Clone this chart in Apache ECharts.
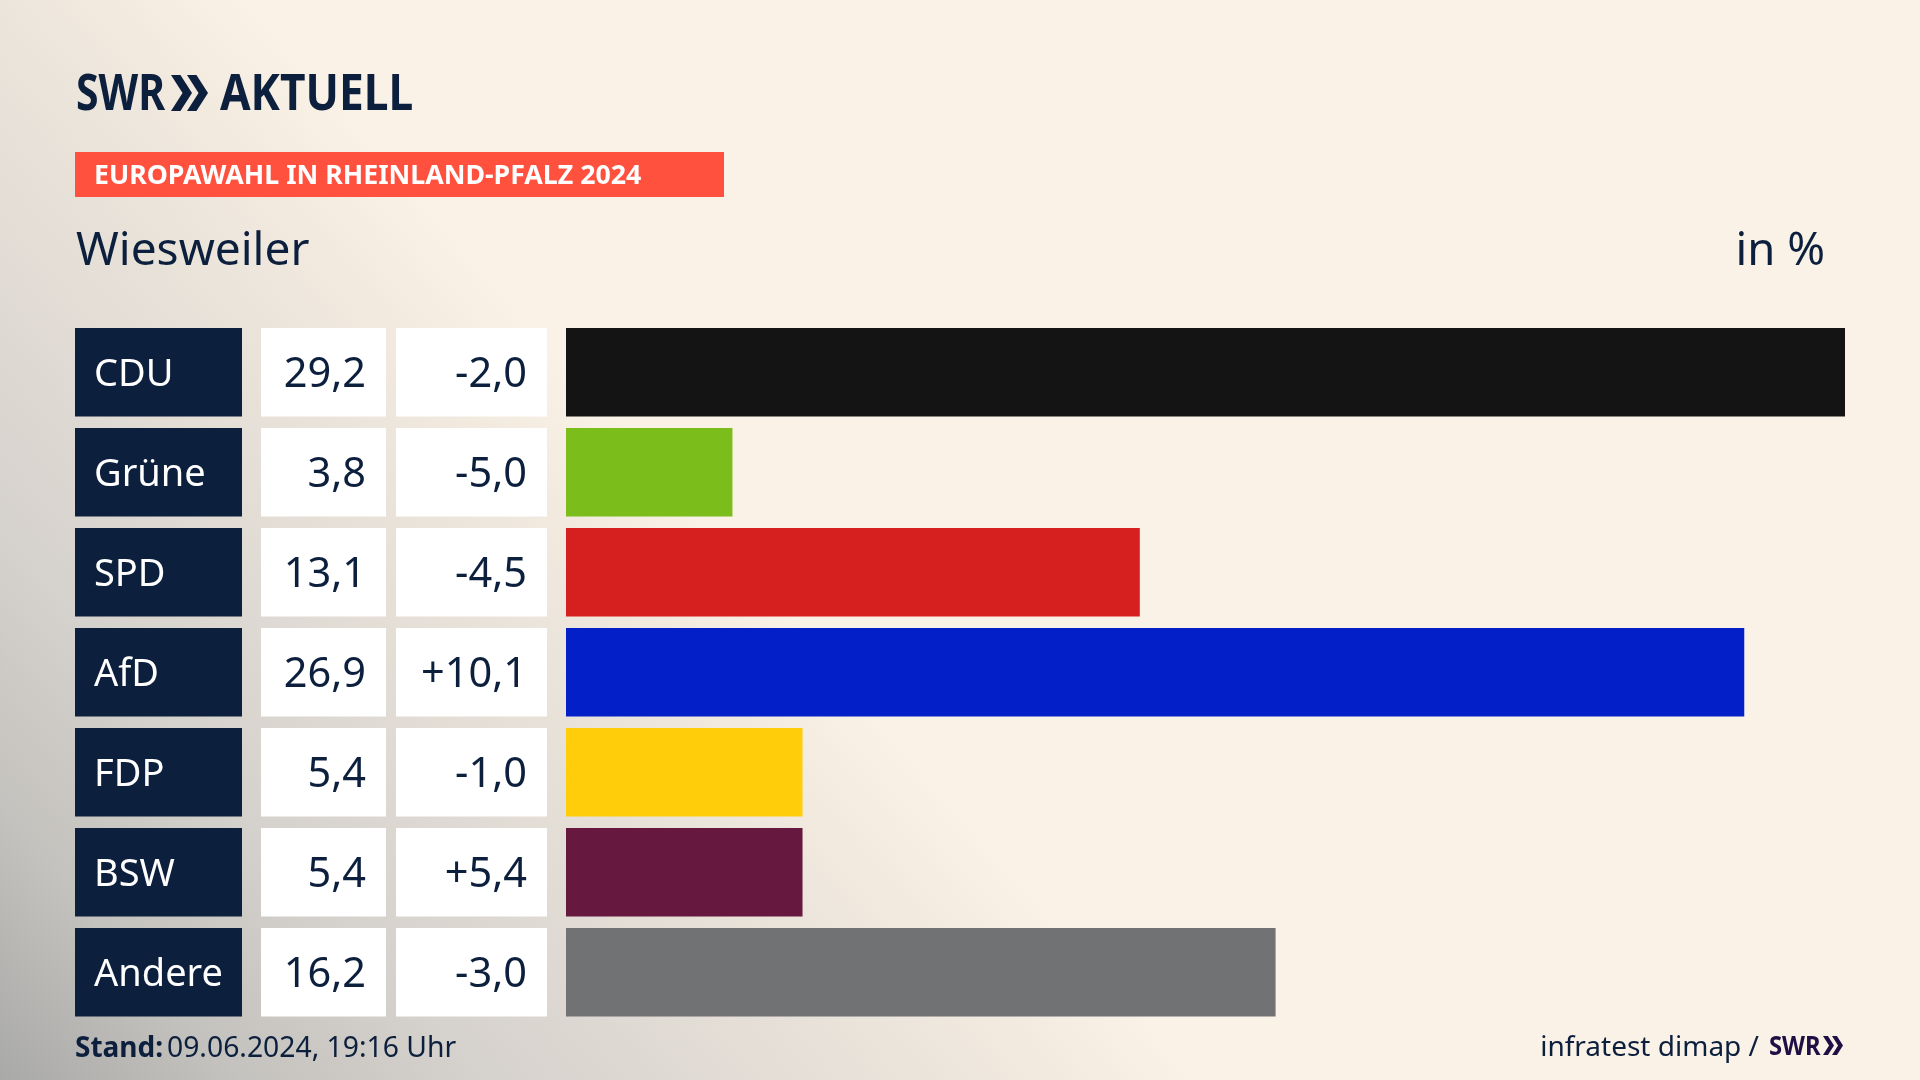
<!DOCTYPE html>
<html>
<head>
<meta charset="utf-8">
<style>
    html, body { margin: 0; padding: 0; background: #faf2e7; }
    #chart { width: 1920px; height: 1080px; }
</style>
<script src="https://cdn.jsdelivr.net/npm/echarts@6/dist/echarts.min.js"></script>
</head>
<body>
<div id="chart"></div>
<script>
// Werte aus der Grafik
const parties = ['CDU', 'Grüne', 'SPD', 'AfD', 'FDP', 'BSW', 'Andere'];
const shares = [29.2, 3.8, 13.1, 26.9, 5.4, 5.4, 16.2];
const changes = [-2.0, -5.0, -4.5, 10.1, -1.0, 5.4, -3.0];
const partyColors = ['#141414', '#7bbd1a', '#d61f1f', '#0320c8', '#ffcd0a', '#67183f', '#707274'];

const NAVY = '#0c1f3d';
const FONT = '"Noto Sans", sans-serif';

const comma = v => Math.abs(v).toFixed(1).replace('.', ',');
const shareLabels = shares.map(comma);
const changeLabels = changes.map(v => (v < 0 ? '-' : '+') + comma(v));

// eine Tabellenspalte ist eine Kategorieachse mit Kasten als Label
function column(data, offset, cellWidth, align, bg, color, fontSize, pad) {
    return {
        type: 'category',
        data: data,
        inverse: true,
        position: 'left',
        offset: offset,
        axisLine: { show: false },
        axisTick: { show: false },
        axisLabel: {
            interval: 0,
            margin: 0,
            hideOverlap: false,
            formatter: v => '{cell|' + v + '}',
            rich: {
                cell: {
                    width: cellWidth - pad,
                    height: 83.5,
                    lineHeight: 83.5,
                    align: align,
                    // oben etwas Luft, damit die Schrift tiefer sitzt
                    padding: align === 'left' ? [5, 0, 0, pad] : [5, pad, 0, 0],
                    backgroundColor: bg,
                    color: color,
                    fontFamily: FONT,
                    fontSize: fontSize
                }
            }
        }
    };
}

function label(text, x, y, size, weight, color, extra) {
    return {
        type: 'text',
        x: x,
        y: y,
        scaleX: (extra && extra.scaleX) || 1,
        style: {
            text: text,
            fill: color,
            fontFamily: FONT,
            fontSize: size,
            fontWeight: weight,
            align: (extra && extra.align) || 'left',
            verticalAlign: 'middle'
        }
    };
}

function chevron(x, top, w, h, color) {
    const bend = w * 0.55;
    return {
        type: 'polygon',
        shape: { points: [[x, top], [x + w * 0.45, top], [x + w, top + h / 2], [x + w * 0.45, top + h], [x, top + h], [x + bend, top + h / 2]] },
        style: { fill: color }
    };
}

const chart = echarts.init(document.getElementById('chart'));

chart.setOption({
    animation: false,
    backgroundColor: {
        type: 'linear',
        x: 0, y: 1080, x2: 677, y2: 485,
        global: true,
        colorStops: [
            { offset: 0, color: '#a9a9a8' },
            { offset: 0.2, color: '#c4c2be' },
            { offset: 0.4, color: '#d5d1cc' },
            { offset: 0.75, color: '#e9e3da' },
            { offset: 0.88, color: '#f3eadf' },
            { offset: 1, color: '#faf2e7' }
        ]
    },
    grid: { left: 566, right: 75, top: 322.25, height: 700 },
    xAxis: { type: 'value', min: 0, max: 29.2, show: false },
    yAxis: [
        column(parties, 324, 167, 'left', NAVY, '#ffffff', 38, 19),
        column(shareLabels, 180, 125, 'right', '#ffffff', NAVY, 41.5, 20),
        column(changeLabels, 19, 151, 'right', '#ffffff', NAVY, 41.5, 20)
    ],
    series: [{
        type: 'bar',
        data: shares.map((v, i) => ({ value: v, itemStyle: { color: partyColors[i] } })),
        barWidth: 88.5,
        silent: true
    }],
    graphic: [
        label('SWR', 76, 96, 50, 700, NAVY, { scaleX: 0.82 }),
        chevron(171, 75, 21, 36, NAVY),
        chevron(187, 75, 21, 36, NAVY),
        label('AKTUELL', 220, 96, 50, 700, NAVY, { scaleX: 0.885 }),
        {
            type: 'rect',
            shape: { x: 75, y: 152, width: 649, height: 45 },
            style: { fill: '#ff513d' }
        },
        label('EUROPAWAHL IN RHEINLAND-PFALZ 2024', 94, 176, 27, 700, '#ffffff', { scaleX: 0.99 }),
        label('Wiesweiler', 76, 252, 46, 400, NAVY),
        label('in %', 1825, 252, 45.5, 400, NAVY, { align: 'right' }),
        label('Stand:', 75, 1049, 28, 700, NAVY),
        label('09.06.2024, 19:16 Uhr', 167, 1049, 28.3, 400, NAVY),
        label('infratest dimap /', 1759, 1048, 28, 400, NAVY, { align: 'right' }),
        label('SWR', 1769, 1047, 27, 700, '#1f0f45', { scaleX: 0.88 }),
        chevron(1823, 1036, 11, 19, '#1f0f45'),
        chevron(1832, 1036, 11, 19, '#1f0f45')
    ]
});
</script>
</body>
</html>
